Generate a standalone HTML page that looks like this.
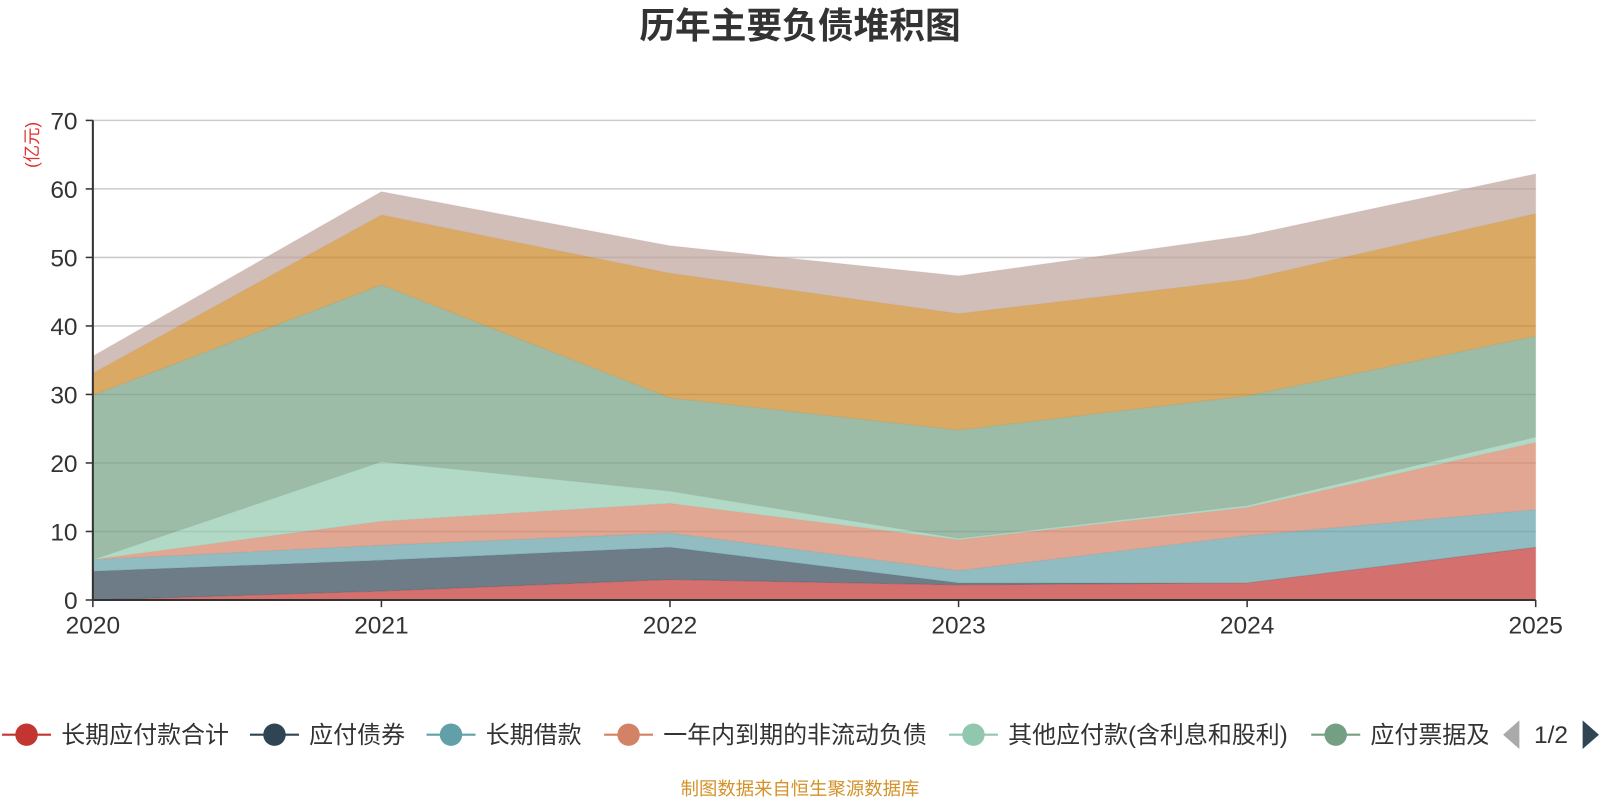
<!DOCTYPE html>
<html><head><meta charset="utf-8">
<style>
html,body{margin:0;padding:0;background:#fff;width:1600px;height:800px;overflow:hidden}
svg text{font-family:"Liberation Sans","Noto Sans CJK SC",sans-serif}
</style></head>
<body>
<svg id="chart" width="1600" height="800" xmlns="http://www.w3.org/2000/svg">
<defs><clipPath id="legclip"><rect x="0" y="690" width="1458" height="60"/></clipPath></defs>
<g transform="scale(1.0204)">
<text x="784" y="37" text-anchor="middle" font-size="35" font-weight="bold" fill="#333">历年主要负债堆积图</text>
<text transform="translate(37,142) rotate(-90)" text-anchor="middle" font-size="17" fill="#e03030">(亿元)</text>
<g id="grid"></g>
<g id="areas"></g>
<g id="axes"></g>
<g id="legend" clip-path="url(#legclip)"></g>
<g>
<polygon points="1489,706 1489,734 1473,720" fill="#aaa"/>
<text x="1520" y="728" text-anchor="middle" font-size="24" fill="#333">1/2</text>
<polygon points="1551,706 1551,734 1567,720" fill="#2f4554"/>
</g>
<text x="784" y="779" text-anchor="middle" font-size="18" fill="#d4922a">制图数据来自恒生聚源数据库</text>
</g>
</svg>
<script>
const years = ["2020","2021","2022","2023","2024","2025"];
const seriesNames = ["长期应付款合计","应付债券","长期借款","一年内到期的非流动负债","其他应付款(含利息和股利)","应付票据及应付账款","合同负债","其他"];
const sRed = [0, 1.3, 3.0, 2.2, 2.5, 7.7];
const sDark = [4.2, 4.5, 4.7, 0.3, 0, 0];
const sTeal = [1.7, 2.2, 2.1, 1.8, 6.9, 5.5];
const sOrange = [0, 3.5, 4.3, 4.5, 4.1, 9.8];
const sLight = [0, 8.7, 1.8, 0.2, 0.3, 0.8];
const sGreen = [24.0, 25.8, 13.6, 15.8, 16.0, 14.7];
const sGold = [3.2, 10.2, 18.2, 17.0, 17.0, 17.9];
const sBrown = [2.5, 3.4, 4.0, 5.5, 6.4, 5.8];
const yTicks = [0,10,20,30,40,50,60,70];

const allSeries = [sRed,sDark,sTeal,sOrange,sLight,sGreen,sGold,sBrown];
const colors = ["#c23531","#2f4554","#61a0a8","#d48265","#91c7ae","#749f83","#ca8622","#bda29a"];
const NS="http://www.w3.org/2000/svg";
const x0=91,x1=1505,yB=588,yT=118,yMax=70;
const xs=i=>x0+(x1-x0)*i/(years.length-1);
const ys=v=>yB-(yB-yT)*v/yMax;
function mk(tag,attrs,parent){const e=document.createElementNS(NS,tag);for(const k in attrs)e.setAttribute(k,attrs[k]);parent.appendChild(e);return e;}

const grid=document.getElementById('grid'),axes=document.getElementById('axes'),areas=document.getElementById('areas'),legend=document.getElementById('legend');
yTicks.forEach(t=>{
  if(t>0){const l=mk('line',{x1:x0,x2:x1,y1:ys(t),y2:ys(t),stroke:'#ccc','stroke-width':1.5},grid);
  
  }
  const tk=mk('line',{x1:x0-7,x2:x0,y1:ys(t),y2:ys(t),stroke:'#333','stroke-width':1.5},axes);
  
  
  const tx=mk('text',{x:x0-15,y:ys(t)+9,'text-anchor':'end','font-size':24,fill:'#333'},axes);
  tx.textContent=t;
  
  
});
const ya=mk('line',{x1:x0,x2:x0,y1:yT,y2:yB,stroke:'#333','stroke-width':2},axes);


const xa=mk('line',{x1:x0,x2:x1,y1:yB,y2:yB,stroke:'#333','stroke-width':2},axes);


years.forEach((y,i)=>{
  const tk=mk('line',{x1:xs(i),x2:xs(i),y1:yB,y2:yB+7,stroke:'#333','stroke-width':1.5},axes);
  
  
  const tx=mk('text',{x:xs(i),y:yB+33,'text-anchor':'middle','font-size':24,fill:'#333'},axes);
  tx.textContent=y;
  
  
});
let base=years.map(()=>0);
allSeries.forEach((s,si)=>{
  const top=base.map((b,i)=>b+s[i]);
  let d='M'+top.map((v,i)=>xs(i)+','+ys(v)).join(' L');
  for(let i=years.length-1;i>=0;i--)d+=' L'+xs(i)+','+ys(base[i]);
  const p=mk('path',{d:d+'Z',fill:colors[si],'fill-opacity':0.7,stroke:colors[si],'stroke-opacity':0.15,'stroke-width':1},areas);
  
  
  base=top;
});
const legX=[2,245,418,592,930,1285];
legX.forEach((lx,i)=>{
  const g=mk('g',{},legend);
  
  
  mk('line',{x1:lx,x2:lx+48,y1:720,y2:720,stroke:colors[i],'stroke-width':2},g);
  mk('circle',{cx:lx+24,cy:720,r:11,fill:colors[i]},g);
  const t=mk('text',{x:lx+58,y:728,'font-size':23.5,fill:'#333'},g);
  t.textContent=seriesNames[i];
});
</script>
</body></html>
